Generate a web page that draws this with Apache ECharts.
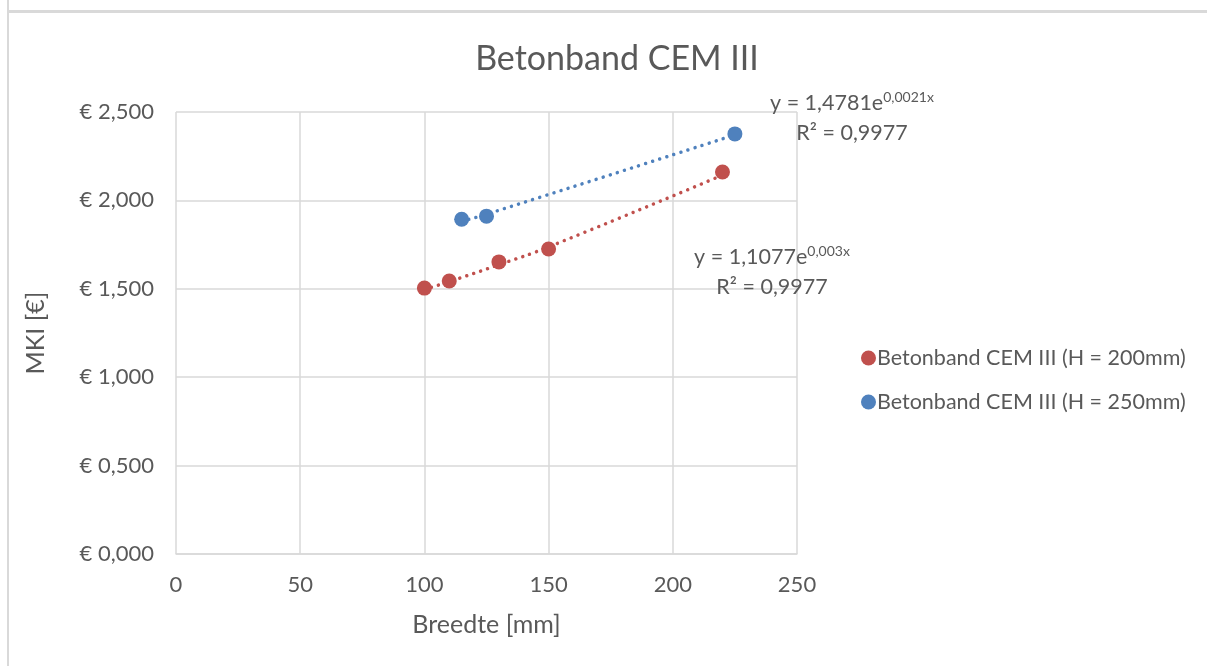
<!DOCTYPE html>
<html>
<head>
<meta charset="utf-8">
<script src="https://cdn.jsdelivr.net/npm/echarts@6/dist/echarts.min.js"></script>
<style>
  html, body { margin: 0; padding: 0; background: #fff; }
  #chart { width: 1207px; height: 666px; }
  .frame-top { position: absolute; left: 7px; top: 10px; width: 1200px; height: 3px; background: #d9d9d9; }
  .frame-left { position: absolute; left: 7px; top: 0; width: 2px; height: 666px; background: #d9d9d9; }
</style>
</head>
<body>
<div id="chart"></div>
<div class="frame-top"></div>
<div class="frame-left"></div>
<script>
// breedte [mm] en MKI [€]
const breedte200 = [100, 110, 130, 150, 220];
const mki200 = [1.504, 1.544, 1.652, 1.725, 2.161];
const breedte250 = [115, 125, 225];
const mki250 = [1.893, 1.911, 2.376];

// exponentiele trendlijnen (y = a * e^(b x)) zoals in de grafiek vermeld
const trend200 = { a: 1.1077, b: 0.003, label: "1,1077", exp: "0,003x", r2: "0,9977" };
const trend250 = { a: 1.4781, b: 0.0021, label: "1,4781", exp: "0,0021x", r2: "0,9977" };

const xTicks = [0, 50, 100, 150, 200, 250];
const yTicks = [0, 0.5, 1, 1.5, 2, 2.5];

const red = "#C0504D";
const blue = "#4F81BD";
const textColor = "#595959";
const font = "Lato, 'Open Sans', sans-serif";

const zip = (xs, ys) => xs.map((x, i) => [x, ys[i]]);
const fitted = (xs, t) => xs.map(x => [x, t.a * Math.exp(t.b * x)]);

const chart = echarts.init(document.getElementById("chart"));

const dotted = color => ({ color: color, width: 3.5, type: [0.01, 7.4], cap: "round" });

const options = {
  animation: false,
  textStyle: { fontFamily: font, color: textColor },
  title: {
    text: "Betonband CEM III",
    left: 612,
    textAlign: "center",
    top: 37,
    textStyle: { fontSize: 34, fontWeight: "normal", color: textColor, fontFamily: font },
  },
  grid: { left: 176, right: 410, top: 112, bottom: 112 },
  legend: {
    orient: "vertical",
    left: 856,
    top: 342,
    itemGap: 22,
    itemWidth: 15,
    itemHeight: 15,
    icon: "circle",
    data: ["Betonband CEM III (H = 200mm)", "Betonband CEM III (H = 250mm)"],
    textStyle: { fontSize: 21.5, color: textColor, fontFamily: font, padding: [0, 0, 0, -4] },
  },
  xAxis: {
    type: "value",
    min: xTicks[0],
    max: xTicks[xTicks.length - 1],
    interval: 50,
    name: "Breedte [mm]",
    nameLocation: "middle",
    nameGap: 58,
    nameTextStyle: { fontSize: 25, color: textColor, fontFamily: font },
    axisLine: { show: true, lineStyle: { color: "#d9d9d9", width: 1.5 } },
    axisTick: { show: false },
    axisLabel: { fontSize: 22, color: textColor, margin: 20, fontFamily: font },
    splitLine: { show: true, lineStyle: { color: "#d9d9d9", width: 1.5 } },
  },
  yAxis: {
    type: "value",
    min: yTicks[0],
    max: yTicks[yTicks.length - 1],
    interval: 0.5,
    name: "MKI [€]",
    nameLocation: "middle",
    nameGap: 128,
    nameTextStyle: { fontSize: 25, color: textColor, fontFamily: font },
    axisLine: { show: false },
    axisTick: { show: false },
    axisLabel: {
      fontSize: 22,
      color: textColor,
      margin: 22,
      fontFamily: font,
      formatter: v => "€ " + v.toFixed(3).replace(".", ","),
    },
    splitLine: { show: true, lineStyle: { color: "#d9d9d9", width: 1.5 } },
  },
  series: [
    {
      name: "trend 200",
      type: "line",
      data: fitted(breedte200, trend200),
      symbol: "none",
      smooth: true,
      lineStyle: dotted(red),
      z: 1,
    },
    {
      name: "trend 250",
      type: "line",
      data: fitted(breedte250, trend250),
      symbol: "none",
      smooth: true,
      lineStyle: dotted(blue),
      z: 1,
    },
    {
      name: "Betonband CEM III (H = 200mm)",
      type: "scatter",
      data: zip(breedte200, mki200),
      symbolSize: 15,
      itemStyle: { color: red, opacity: 1 },
      z: 3,
    },
    {
      name: "Betonband CEM III (H = 250mm)",
      type: "scatter",
      data: zip(breedte250, mki250),
      symbolSize: 15,
      itemStyle: { color: blue, opacity: 1 },
      z: 3,
    },
  ],
};

chart.setOption(options);

// vergelijkingen van de trendlijnen
const eqRich = {
  a: { fontSize: 21.5, fill: textColor, fontFamily: font },
  sup: { fontSize: 14, fill: textColor, fontFamily: font, padding: [0, 0, 12, 0] },
};
const eqText = (t, cx, cy) => [
  {
    type: "text",
    x: cx,
    y: cy,
    z: 10,
    style: { text: "{a|y = " + t.label + "e}{sup|" + t.exp + "}", rich: eqRich, fill: textColor, align: "center", verticalAlign: "middle" },
  },
  {
    type: "text",
    x: cx,
    y: cy + 30,
    z: 10,
    style: { text: "R² = " + t.r2, fontSize: 21.5, fill: textColor, fontFamily: font, align: "center", verticalAlign: "middle" },
  },
];

chart.setOption({
  graphic: [...eqText(trend250, 852, 103), ...eqText(trend200, 772, 257)],
});
</script>
</body>
</html>
